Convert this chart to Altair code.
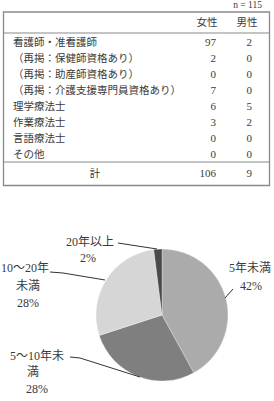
import altair as alt
import pandas as pd

# ---- data ----
row_labels = ["看護師・准看護師", "（再掲：保健師資格あり）", "（再掲：助産師資格あり）",
              "（再掲：介護支援専門員資格あり）", "理学療法士", "作業療法士", "言語療法士", "その他"]
female = [97, 2, 0, 7, 6, 3, 0, 0]
male = [2, 0, 0, 0, 5, 2, 0, 0]
total_female = 106
total_male = 9
n_label = "n = 115"

pie_cats = ["5年未満", "5～10年未満", "10～20年未満", "20年以上"]
pie_pct = [42, 28, 28, 2]
pie_colors = ["#ababab", "#7f7f7f", "#d6d6d6", "#4a4a4a"]

FONT = "Liberation Serif, Noto Sans CJK JP"
TXT = "#3a3a3a"
LINE = "#8a8a8a"

tbl = pd.DataFrame({"label": row_labels, "f": female, "m": male})
pie = pd.DataFrame({"cat": pie_cats, "pct": pie_pct, "order": list(range(len(pie_cats)))})

W, H = 274, 401
yrow = alt.Y("label:N", sort=None, axis=None,
             scale=alt.Scale(type="point", range=[43, 155], padding=0))

base = alt.Chart(tbl)
labels = base.mark_text(align="left", baseline="middle", font=FONT, fontSize=10.5, color=TXT).encode(
    x=alt.value(13), y=yrow, text="label:N")
fcol = base.mark_text(align="right", baseline="middle", font=FONT, fontSize=11, color=TXT).encode(
    x=alt.value(216), y=yrow, text="f:Q")
mcol = base.mark_text(align="right", baseline="middle", font=FONT, fontSize=11, color=TXT).encode(
    x=alt.value(252), y=yrow, text="m:Q")

one = pd.DataFrame({"k": [0]})
def txt(s, x, y, align="center", size=10.5):
    return alt.Chart(one).mark_text(align=align, baseline="middle", font=FONT, fontSize=size,
                                    color=TXT).encode(x=alt.value(x), y=alt.value(y), text=alt.value(s))
def rule(x1, y1, x2, y2, color=LINE, w=1.2):
    return alt.Chart(one).mark_rule(color=color, strokeWidth=w).encode(
        x=alt.value(x1), y=alt.value(y1), x2=alt.value(x2), y2=alt.value(y2))

box = alt.Chart(one).mark_rect(fill=None, stroke=LINE, strokeWidth=1.3).encode(
    x=alt.value(3.5), x2=alt.value(269.5), y=alt.value(12), y2=alt.value(185.5))

header = [txt("女性", 207, 23), txt("男性", 247, 23)]
totals = [txt("計", 95, 174), txt(str(total_female), 216, 174, align="right", size=11),
          txt(str(total_male), 252, 174, align="right", size=11)]
lines = [rule(3.5, 33, 269.5, 33), rule(3.5, 162, 269.5, 162)]
nlab = txt(n_label, 262, 5, align="right", size=9.5)

arc = alt.Chart(pie).mark_arc(radius=66, stroke="#ffffff", strokeWidth=0.3).encode(
    theta=alt.Theta("pct:Q", stack=True),
    order=alt.Order("order:Q"),
    color=alt.Color("cat:N", scale=alt.Scale(domain=pie_cats, range=pie_colors), legend=None),
    x=alt.value(162), y=alt.value(315))

plabels = [
    txt("20年以上", 90, 242, size=12), txt("2%", 88, 258, size=12),
    txt("10～20年", 1, 268, align="left", size=12), txt("未満", 28, 286, size=12), txt("28%", 28, 303, size=12),
    txt("5年未満", 250, 268, size=12), txt("42%", 251, 286, size=12),
    txt("5～10年未", 37, 356, size=12), txt("満", 33, 372, size=12), txt("28%", 37, 389, size=12),
]
leaders = [
    rule(118, 243, 157, 249, color="#333333", w=1),
    rule(50, 272, 63, 273, color="#333333", w=1), rule(63, 273, 105, 280, color="#333333", w=1),
    rule(233, 289, 225, 298, color="#333333", w=1),
    rule(70, 357, 80, 358, color="#333333", w=1), rule(80, 358, 140, 377, color="#333333", w=1),
]

chart = alt.layer(box, *lines, labels, fcol, mcol, *header, *totals, nlab, arc, *leaders, *plabels).properties(
    width=W, height=H, padding=0, autosize=alt.AutoSizeParams(type="none"), background="white"
).configure_view(stroke=None)

chart.save("out.html", embed_options={"renderer": "svg", "actions": False})
